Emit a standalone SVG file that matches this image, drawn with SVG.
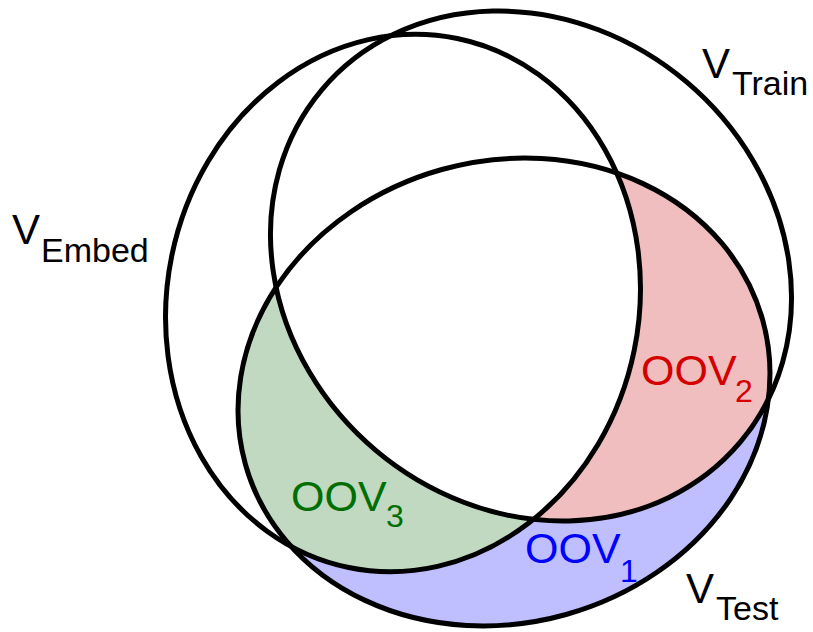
<svg xmlns="http://www.w3.org/2000/svg" width="813" height="632" viewBox="0 0 813 632">
<style>
.outline{fill:none;stroke:#000;stroke-width:5}
text{font-family:"Liberation Sans",Arial,sans-serif}
.big{font-size:42px;fill:#000}
.sub{font-size:34px}
.oov{font-size:43px}
.oovsub{font-size:32px}
</style>
<defs>
<clipPath id="clipA"><ellipse cx="531" cy="266" rx="273.5" ry="241" transform="rotate(40.1 531 266)"/></clipPath>
<clipPath id="clipB"><ellipse cx="403" cy="303" rx="236" ry="270" transform="rotate(11.6 403 303)"/></clipPath>
<clipPath id="clipC"><ellipse cx="504" cy="392" rx="268.5" ry="231" transform="rotate(-15.6 504 392)"/></clipPath>
</defs>
<rect width="813" height="632" fill="#fff"/>
<g id="regions">
<ellipse cx="504" cy="392" rx="268.5" ry="231" transform="rotate(-15.6 504 392)" fill="#bfbfff"/>
<g clip-path="url(#clipC)">
<ellipse cx="403" cy="303" rx="236" ry="270" transform="rotate(11.6 403 303)" fill="#c0d9c0"/>
<ellipse cx="531" cy="266" rx="273.5" ry="241" transform="rotate(40.1 531 266)" fill="#f0bebe"/>
<g clip-path="url(#clipB)">
<ellipse cx="531" cy="266" rx="273.5" ry="241" transform="rotate(40.1 531 266)" fill="#fff"/>
</g>
</g>
</g>
<g id="v-train">
<ellipse class="outline" cx="531" cy="266" rx="273.5" ry="241" transform="rotate(40.1 531 266)"/>
<text class="big"><tspan x="702" y="78">V</tspan><tspan class="sub" x="732" y="95">Train</tspan></text>
</g>
<g id="v-embed">
<ellipse class="outline" cx="403" cy="303" rx="236" ry="270" transform="rotate(11.6 403 303)"/>
<text class="big"><tspan x="12" y="244">V</tspan><tspan class="sub" x="41" y="262">Embed</tspan></text>
</g>
<g id="v-test">
<ellipse class="outline" cx="504" cy="392" rx="268.5" ry="231" transform="rotate(-15.6 504 392)"/>
<text class="big"><tspan x="686" y="603">V</tspan><tspan class="sub" x="716" y="620">Test</tspan></text>
</g>
<g id="oov1">
<text fill="#0000ff"><tspan class="oov" x="525" y="563">OOV</tspan><tspan class="oovsub" x="620" y="582">1</tspan></text>
</g>
<g id="oov2">
<text fill="#d40000"><tspan class="oov" x="641" y="385">OOV</tspan><tspan class="oovsub" x="735" y="402">2</tspan></text>
</g>
<g id="oov3">
<text fill="#006e00"><tspan class="oov" x="291" y="511">OOV</tspan><tspan class="oovsub" x="386" y="527">3</tspan></text>
</g>
</svg>
